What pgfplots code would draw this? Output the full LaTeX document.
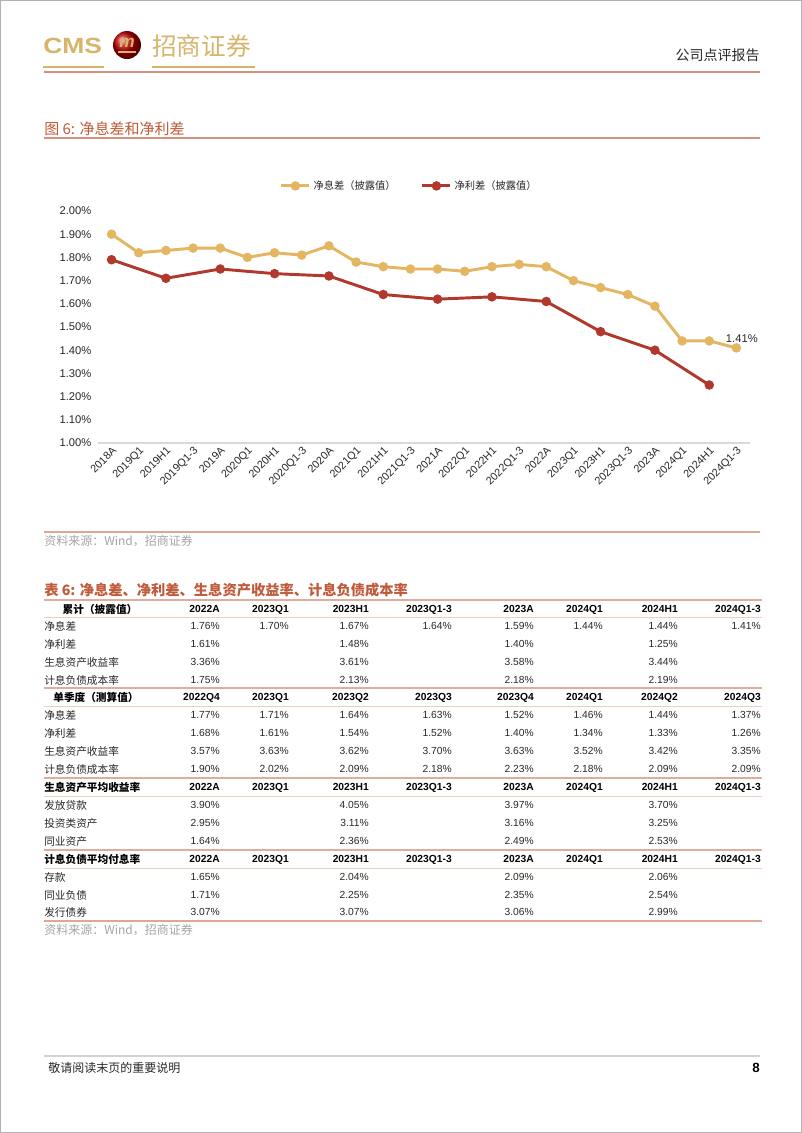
\documentclass[border=0pt]{standalone}
\usepackage{fontspec}
\setmainfont{Liberation Sans}
\newfontfamily\cjk{Noto Sans CJK SC}
\usepackage{pgfplots}
\pgfplotsset{compat=1.18}
\definecolor{gold}{RGB}{228,182,98}
\definecolor{darkred}{RGB}{176,56,45}
\definecolor{logogold}{RGB}{216,180,106}
\definecolor{rulec}{RGB}{212,146,124}
\definecolor{titlec}{RGB}{192,90,58}
\definecolor{srcgray}{RGB}{165,165,165}
\definecolor{txt}{RGB}{40,40,40}
\newcommand\fs[1]{\fontsize{#1}{#1}\selectfont}
\newcommand\trow[3]{%
  \node[anchor=west, font=\cjk\fs{8}, inner sep=0, text=txt] at (44,#1) {#2};
  \foreach \v [count=\i] in {#3} {
    \pgfmathsetmacro\cx{{220,289,369,452,534,603,678,761}[\i-1]}
    \node[anchor=base east, font=\fs{7.7}, inner sep=0, text=txt] at (\cx,#1+3.9) {\v};
  }
}
\newcommand\hrow[4]{%
  \node[#2, font=\cjk\bfseries\fs{8}, inner sep=0, text=black] at (#1) {#3};
  \foreach \v [count=\i] in {#4} {
    \pgfmathsetmacro\cx{{220,289,369,452,534,603,678,761}[\i-1]}
    \node[anchor=base east, font=\bfseries\fs{7.7}, inner sep=0, text=black] at (\cx,\hy+3.9) {\v};
  }
}
\begin{document}
\begin{tikzpicture}
\begin{scope}[x=0.75pt,y=-0.75pt]
\useasboundingbox (0,0) rectangle (802,1133);
\fill[white] (0,0) rectangle (802,1133);
\draw[gray!60, line width=0.75pt] (0.5,0.5) rectangle (801.5,1132.5);
% logo
\node[anchor=west, font=\bfseries\fs{16.5}, text=logogold, inner sep=0, xscale=1.2] at (43,46) {CMS};
\shade[ball color=red!75!black] (127,45) circle (14);
\node[text=logogold, font=\bfseries\itshape\fs{13}, inner sep=0] at (127,43) {m};
\draw[logogold, line width=1pt] (118,52) -- (136,52);
\node[anchor=west, font=\cjk\fs{18.5}, text=logogold, inner sep=0] at (152,46) {招商证券};
\draw[logogold, line width=1.2pt] (43,67) -- (104,67);
\draw[logogold, line width=1.2pt] (152,67) -- (255,67);
\node[anchor=east, font=\cjk\fs{10.5}, text=txt, inner sep=0] at (760,55) {公司点评报告};
\draw[rulec, line width=0.9pt] (44,72) -- (760,72);
% figure title
\node[anchor=west, font=\cjk\fs{11.25}, text=titlec, inner sep=0] at (44,129) {图 6: 净息差和净利差};
\draw[rulec, line width=1.5pt] (44,138) -- (760,138);
% source
\draw[rulec!80, line width=0.8pt] (44,532) -- (760,532);
\node[anchor=west, font=\cjk\fs{9}, text=srcgray, inner sep=0] at (44,541) {资料来源：Wind，招商证券};
% table title
\node[anchor=west, font=\cjk\bfseries\fs{10.7}, text=titlec, inner sep=0] at (44,590) {表 6: 净息差、净利差、生息资产收益率、计息负债成本率};
% table rules
\foreach \a/\b in {600/617, 688/706, 778/796, 850/868} {
  \draw[rulec!75, line width=1.3pt] (44,\a) -- (762,\a);
  \draw[rulec!45, line width=0.6pt] (44,\b) -- (762,\b);
}
\draw[rulec!80, line width=1pt] (44,921) -- (762,921);
% table rows
\def\hy{609}
\hrow{100,609}{anchor=center}{累计（披露值）}{2022A,2023Q1,2023H1,2023Q1-3,2023A,2024Q1,2024H1,2024Q1-3}
\trow{626}{净息差}{1.76\%,1.70\%,1.67\%,1.64\%,1.59\%,1.44\%,1.44\%,1.41\%}
\trow{644}{净利差}{1.61\%,,1.48\%,,1.40\%,,1.25\%,}
\trow{662}{生息资产收益率}{3.36\%,,3.61\%,,3.58\%,,3.44\%,}
\trow{680}{计息负债成本率}{1.75\%,,2.13\%,,2.18\%,,2.19\%,}
\def\hy{697}
\hrow{96,697}{anchor=center}{单季度（测算值）}{2022Q4,2023Q1,2023Q2,2023Q3,2023Q4,2024Q1,2024Q2,2024Q3}
\trow{715}{净息差}{1.77\%,1.71\%,1.64\%,1.63\%,1.52\%,1.46\%,1.44\%,1.37\%}
\trow{733}{净利差}{1.68\%,1.61\%,1.54\%,1.52\%,1.40\%,1.34\%,1.33\%,1.26\%}
\trow{751}{生息资产收益率}{3.57\%,3.63\%,3.62\%,3.70\%,3.63\%,3.52\%,3.42\%,3.35\%}
\trow{769}{计息负债成本率}{1.90\%,2.02\%,2.09\%,2.18\%,2.23\%,2.18\%,2.09\%,2.09\%}
\def\hy{787}
\hrow{44,787}{anchor=west}{生息资产平均收益率}{2022A,2023Q1,2023H1,2023Q1-3,2023A,2024Q1,2024H1,2024Q1-3}
\trow{805}{发放贷款}{3.90\%,,4.05\%,,3.97\%,,3.70\%,}
\trow{823}{投资类资产}{2.95\%,,3.11\%,,3.16\%,,3.25\%,}
\trow{841}{同业资产}{1.64\%,,2.36\%,,2.49\%,,2.53\%,}
\def\hy{859}
\hrow{44,859}{anchor=west}{计息负债平均付息率}{2022A,2023Q1,2023H1,2023Q1-3,2023A,2024Q1,2024H1,2024Q1-3}
\trow{877}{存款}{1.65\%,,2.04\%,,2.09\%,,2.06\%,}
\trow{895}{同业负债}{1.71\%,,2.25\%,,2.35\%,,2.54\%,}
\trow{912}{发行债券}{3.07\%,,3.07\%,,3.06\%,,2.99\%,}
\node[anchor=west, font=\cjk\fs{9}, text=srcgray, inner sep=0] at (44,930) {资料来源：Wind，招商证券};
% footer
\draw[gray!35, line width=0.8pt] (44,1056) -- (760,1056);
\node[anchor=west, font=\cjk\fs{9}, text=txt, inner sep=0] at (48,1068) {敬请阅读末页的重要说明};
\node[anchor=east, font=\bfseries\fs{10}, text=black, inner sep=0] at (760,1068) {8};
\end{scope}
\begin{axis}[
  at={(73.5pt,-332.25pt)}, anchor=south west,
  scale only axis, width=489pt, height=174pt,
  xmin=-0.5, xmax=23.5, ymin=1.0, ymax=2.0,
  clip=false,
  axis x line*=bottom, axis y line*=left,
  x axis line style={draw=black!15, line width=1pt, -},
  y axis line style={draw=none, -},
  major tick length=0pt,
  xtick={0,1,2,3,4,5,6,7,8,9,10,11,12,13,14,15,16,17,18,19,20,21,22,23},
  xticklabels={2018A,2019Q1,2019H1,2019Q1-3,2019A,2020Q1,2020H1,2020Q1-3,2020A,2021Q1,2021H1,2021Q1-3,2021A,2022Q1,2022H1,2022Q1-3,2022A,2023Q1,2023H1,2023Q1-3,2023A,2024Q1,2024H1,2024Q1-3},
  ytick={1.0,1.1,1.2,1.3,1.4,1.5,1.6,1.7,1.8,1.9,2.0},
  yticklabels={1.00\%,1.10\%,1.20\%,1.30\%,1.40\%,1.50\%,1.60\%,1.70\%,1.80\%,1.90\%,2.00\%},
  tick label style={font=\fs{8.4}, text=txt},
  y tick label style={xshift=-1.5pt},
  x tick label style={rotate=45, anchor=north east, inner sep=1.5pt, font=\fs{8.1}},
  legend style={at={(0.478,1.108)}, anchor=center, draw=none, fill=none,
    legend columns=2, font=\cjk\fs{7.7}, text=txt,
    /tikz/every even column/.append style={column sep=17pt},
    inner sep=0pt},
  legend image code/.code={\draw[mark repeat=2,mark phase=2,#1] plot coordinates {(0pt,0pt) (10.5pt,0pt) (21pt,0pt)};},
]
\addplot[color=gold, line width=2.2pt, mark=*, mark size=2.4pt] coordinates {
(0,1.90) (1,1.82) (2,1.83) (3,1.84) (4,1.84) (5,1.80) (6,1.82) (7,1.81)
(8,1.85) (9,1.78) (10,1.76) (11,1.75) (12,1.75) (13,1.74) (14,1.76) (15,1.77)
(16,1.76) (17,1.70) (18,1.67) (19,1.64) (20,1.59) (21,1.44) (22,1.44) (23,1.41)};
\addlegendentry{净息差（披露值）}
\addplot[color=darkred, line width=2.2pt, mark=*, mark size=2.4pt] coordinates {
(0,1.79) (2,1.71) (4,1.75) (6,1.73) (8,1.72) (10,1.64) (12,1.62) (14,1.63)
(16,1.61) (18,1.48) (20,1.40) (22,1.25)};
\addlegendentry{净利差（披露值）}
\node[anchor=south, font=\fs{8.4}, text=txt, inner sep=1pt] at (axis cs:23.2,1.425) {1.41\%};
\end{axis}
\end{tikzpicture}
\end{document}
